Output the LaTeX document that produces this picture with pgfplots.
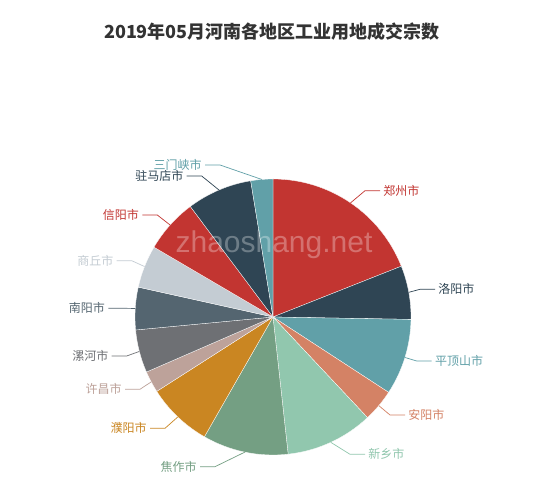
\documentclass[border=0pt]{standalone}
\usepackage{fontspec}
\usepackage{pgfplots}
\usepackage{pgfplotstable}
\pgfplotsset{compat=1.18}
\setmainfont{Noto Sans CJK SC}
\newfontfamily\wmfont{Liberation Sans}
\definecolor{c0}{HTML}{C23531}
\definecolor{c1}{HTML}{2F4554}
\definecolor{c2}{HTML}{61A0A8}
\definecolor{c3}{HTML}{D48265}
\definecolor{c4}{HTML}{91C7AE}
\definecolor{c5}{HTML}{749F83}
\definecolor{c6}{HTML}{CA8622}
\definecolor{c7}{HTML}{BDA29A}
\definecolor{c8}{HTML}{6E7074}
\definecolor{c9}{HTML}{546570}
\definecolor{c10}{HTML}{C4CCD3}
\definecolor{titlec}{HTML}{333333}
% value = share of the pie (read as angle), label elbow in pixel coords
\pgfplotstableread{
value col lx ly side name
68.4 c0 365.0 190.7 1 郑州市
22.6 c1 420.0 289.3 1 洛阳市
32.1 c2 416.7 361.0 1 平顶山市
13.7 c3 390.0 415.0 1 安阳市
36.9 c4 350.0 454.3 1 新乡市
36.1 c5 215.0 466.7 -1 焦作市
27.6 c6 165.0 428.3 -1 濮阳市
9.1 c7 140.0 389.3 -1 许昌市
18.1 c8 126.7 356.0 -1 漯河市
17.9 c9 123.3 308.3 -1 南阳市
17.9 c10 131.7 260.7 -1 商丘市
22.8 c0 157.3 215.0 -1 信阳市
27.5 c1 201.7 176.0 -1 驻马店市
9.3 c2 220.0 165.0 -1 三门峡市
}\piedata
\begin{document}
\begin{tikzpicture}
\useasboundingbox (0,0) rectangle (550pt,490pt);
\fill[white] (0,0) rectangle (550pt,490pt);
\begin{axis}[at={(0,0)}, anchor=origin, x=1pt, y=1pt,
  xmin=0, xmax=550, ymin=0, ymax=490, hide axis, clip=false]
\pgfplotstablegetrowsof{\piedata}
\pgfmathtruncatemacro\nrows{\pgfplotsretval-1}
\def\total{0}
\pgfplotsforeachungrouped \i in {0,...,\nrows}{%
  \pgfplotstablegetelem{\i}{value}\of\piedata
  \pgfmathsetmacro\total{\total+\pgfplotsretval}%
}
\def\cum{0}
\pgfplotsforeachungrouped \i in {0,...,\nrows}{%
  \pgfplotstablegetelem{\i}{value}\of\piedata \let\pval\pgfplotsretval
  \pgfplotstablegetelem{\i}{col}\of\piedata \let\pcol\pgfplotsretval
  \pgfmathsetmacro\sa{90-\cum/\total*360}%
  \pgfmathsetmacro\ea{90-(\cum+\pval)/\total*360}%
  \pgfmathsetmacro\sx{273+138*cos(\sa)}%
  \pgfmathsetmacro\sy{173+138*sin(\sa)}%
  \edef\temp{\noexpand\fill[\pcol, draw=white, line width=0.3pt] (axis cs:273,173) -- (axis cs:\sx,\sy) arc[start angle=\sa, end angle=\ea, radius=138pt] -- cycle;}%
  \temp
  \pgfmathsetmacro\cum{\cum+\pval}%
}
\def\cum{0}
\pgfplotsforeachungrouped \i in {0,...,\nrows}{%
  \pgfplotstablegetelem{\i}{value}\of\piedata \let\pval\pgfplotsretval
  \pgfplotstablegetelem{\i}{col}\of\piedata \let\pcol\pgfplotsretval
  \pgfplotstablegetelem{\i}{lx}\of\piedata \let\plx\pgfplotsretval
  \pgfplotstablegetelem{\i}{ly}\of\piedata \let\ply\pgfplotsretval
  \pgfplotstablegetelem{\i}{side}\of\piedata \let\pside\pgfplotsretval
  \pgfplotstablegetelem{\i}{name}\of\piedata \let\pname\pgfplotsretval
  \pgfmathsetmacro\ma{90-(\cum+\pval/2)/\total*360}%
  \pgfmathsetmacro\mx{273+138*cos(\ma)}%
  \pgfmathsetmacro\my{173+138*sin(\ma)}%
  \pgfmathsetmacro\ey{490-\ply}%
  \pgfmathsetmacro\hx{\plx+15*\pside}%
  \ifnum\pside>0 \def\anch{west}\else\def\anch{east}\fi
  \edef\temp{\noexpand\draw[\pcol, line width=0.7pt] (axis cs:\mx,\my) -- (axis cs:\plx,\ey) -- (axis cs:\hx,\ey) node[anchor=\anch, inner xsep=3pt, inner ysep=0pt, font=\noexpand\fontsize{12}{12}\noexpand\selectfont, text=\pcol] {\pname};}%
  \temp
  \pgfmathsetmacro\cum{\cum+\pval}%
}
\node[anchor=base, text=white, text opacity=0.3, font=\wmfont\fontsize{30}{30}\selectfont] at (axis cs:274,237.7) {zhaoshang.net};
\node[text=titlec, font=\bfseries\fontsize{18}{18}\selectfont] at (axis cs:272,458.3) {2019年05月河南各地区工业用地成交宗数};
\end{axis}
\end{tikzpicture}
\end{document}
